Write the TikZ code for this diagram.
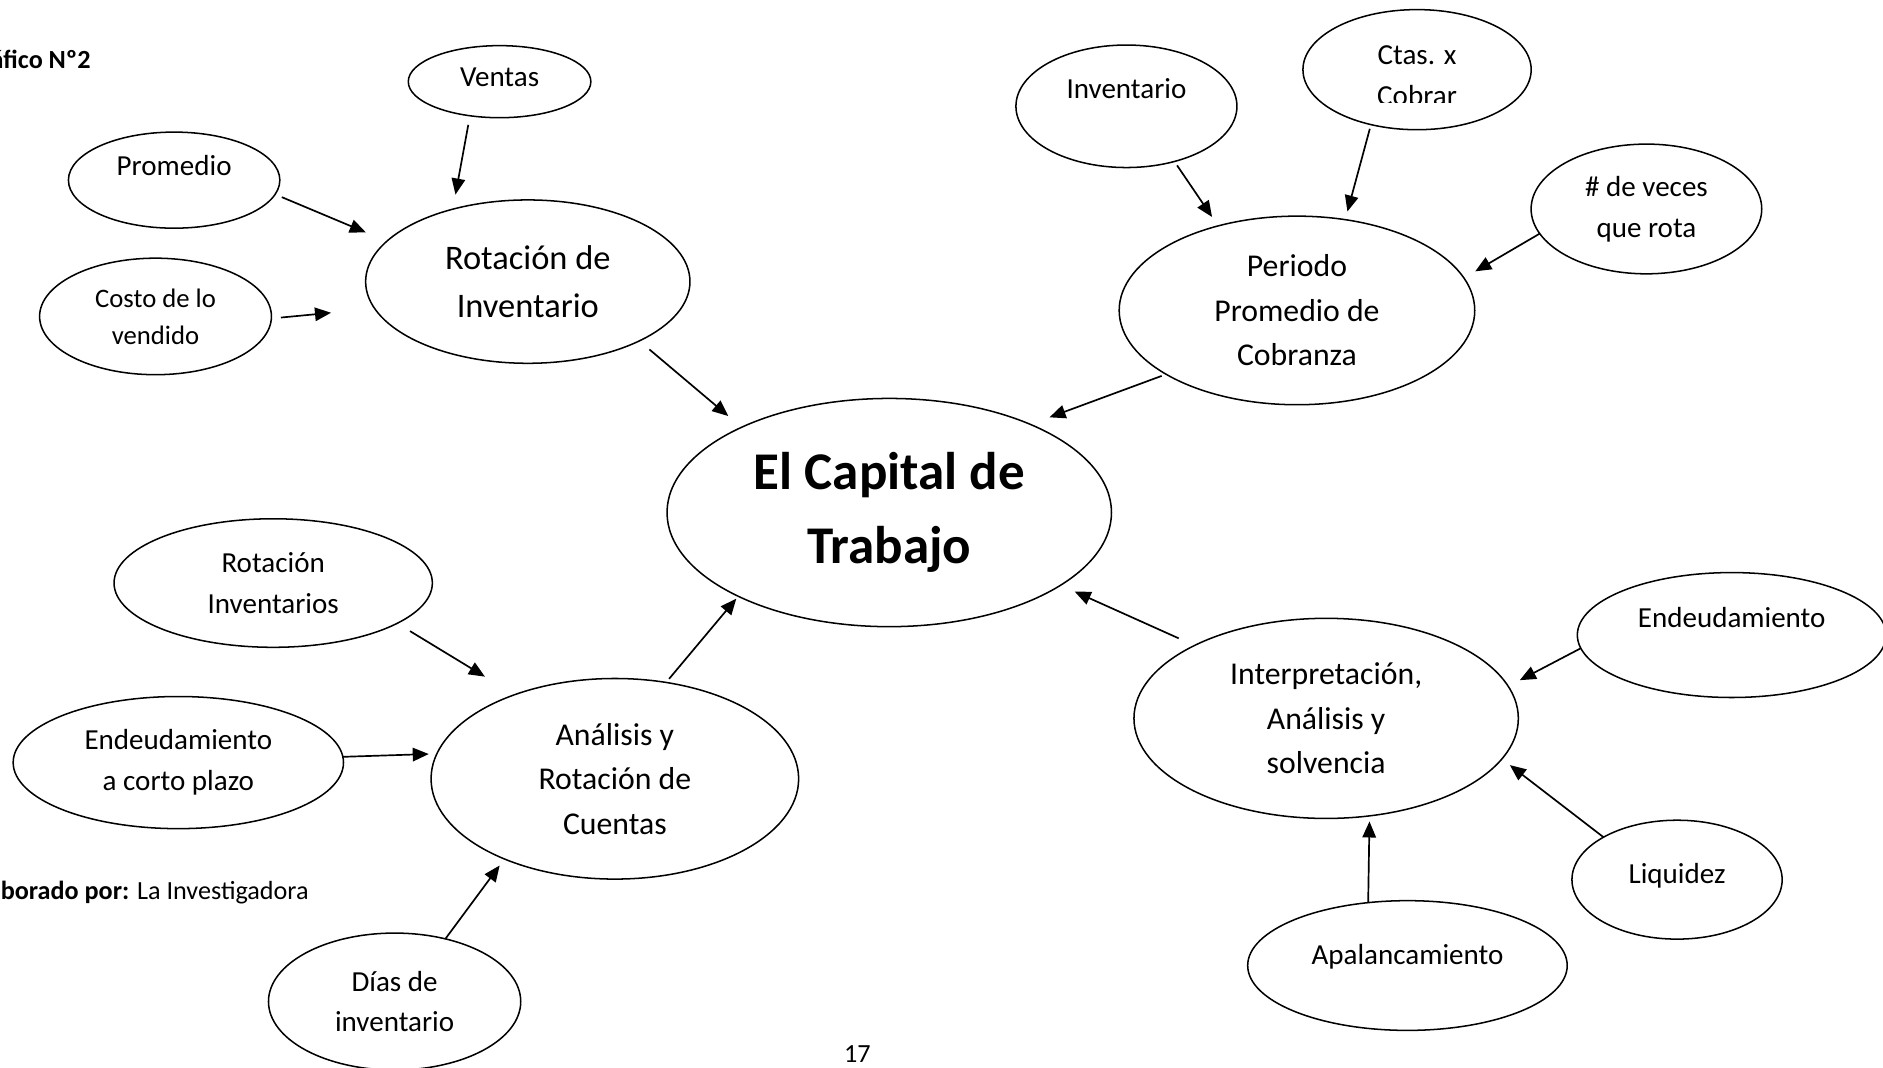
\documentclass[tikz,border=0pt]{standalone}
\usepackage{fontspec}
\setmainfont{Carlito}
\usetikzlibrary{shapes.geometric,arrows.meta}
\newcommand{\lift}[2]{\raisebox{#1}[\height][\depth]{#2}}

\begin{document}
\begin{tikzpicture}[x=0.025cm,y=-0.025cm,inner sep=0pt,outer sep=0pt,
    oval/.style={draw, ellipse, line width=0.9pt, align=center, font=\fontsize{17.2}{24.2}\selectfont},
    ovalmid/.style={oval, font=\fontsize{18.8}{26.3}\selectfont},
    arr/.style={-{Triangle[length=9.5pt,width=8pt]}, line width=1pt},
    note/.style={font=\fontsize{15.5}{18}\selectfont}]
    \clip (0,0) rectangle (1568,889);
    \fill[white] (0,0) rectangle (1568,889);
    % 
    \node[note, anchor=base east] (titulo) at (75.5,57) {\textbf{Gráfico Nº2}};
    \node[note, anchor=base east] (autor) at (257,749) {\textbf{Elaborado por:} La Investigadora};
    \node[note, anchor=base] (pagina) at (714,885) {17};
    % centro
    \node[oval, minimum width=9.25cm, minimum height=4.75cm, font=\fontsize{31.4}{44}\selectfont\bfseries] (capital) at (740.5,426.8) {El Capital de\\Trabajo};
    % arriba izquierda
    \node[oval, minimum width=3.8cm, minimum height=1.5cm] (ventas) at (416,68) {\lift{0.1cm}{Ventas}};
    \node[oval, minimum width=4.4cm, minimum height=2cm] (promedio) at (145,150) {\lift{0.3cm}{Promedio}};
    \node[oval, minimum width=4.825cm, minimum height=2.425cm, font=\fontsize{15.8}{22}\selectfont] (costo) at (129.5,263.5) {Costo de lo\\vendido};
    \node[oval, minimum width=6.75cm, minimum height=3.4cm, font=\fontsize{20.4}{28.5}\selectfont] (rotinv) at (439.5,234.5) {Rotación de\\Inventario};
    % arriba derecha
    \node[oval, minimum width=4.6cm, minimum height=2.55cm] (invent) at (938,88.5) {\lift{0.3625cm}{Inventario}};
    \node[oval, minimum width=4.75cm, minimum height=2.5cm] (ctas) at (1180,58) {};
    \begin{scope}
        \clip (1080,0) rectangle (1280,85.5);
        \node[align=center, font=\fontsize{17.2}{24.2}\selectfont] (ctastxt) at (1180,63) {Ctas. x\\Cobrar};
    \end{scope}
    \node[oval, minimum width=4.8cm, minimum height=2.7cm] (veces) at (1371,174) {\# de veces\\que rota};
    \node[ovalmid, minimum width=7.4cm, minimum height=3.925cm] (periodo) at (1080,258.5) {Periodo\\Promedio de\\Cobranza};
    % abajo izquierda
    \node[oval, minimum width=6.625cm, minimum height=2.675cm] (rotinvs) at (227.5,485.5) {Rotación\\Inventarios};
    \node[oval, minimum width=6.875cm, minimum height=2.75cm] (endcorto) at (148.5,635) {Endeudamiento\\a corto plazo};
    \node[ovalmid, minimum width=7.65cm, minimum height=4.175cm] (analisis) at (512,648.5) {Análisis y\\Rotación de\\Cuentas};
    \node[oval, minimum width=5.25cm, minimum height=2.85cm] (dias) at (328.6,834) {Días de\\inventario};
    % abajo derecha
    \node[ovalmid, minimum width=8cm, minimum height=4.165cm] (interp) at (1104.3,598.2) {Interpretación,\\Análisis y\\solvencia};
    \node[oval, minimum width=6.425cm, minimum height=2.6cm] (endeud) at (1442,528.8) {\lift{0.375cm}{Endeudamiento}};
    \node[oval, minimum width=4.375cm, minimum height=2.475cm] (liquidez) at (1396.5,732.5) {\lift{0.075cm}{Liquidez}};
    \node[oval, minimum width=6.65cm, minimum height=2.7cm] (apalanc) at (1172,804) {\lift{0.175cm}{Apalancamiento}};
    % flechas
    \draw[arr, shorten <=5.5pt, shorten >=8.8pt] (ventas.229.4) -- (rotinv.136.8);
    \draw[arr, shorten <=4.3pt, shorten >=13.5pt] (promedio.-8.6) -- (rotinv.164.4);
    \draw[arr, shorten <=5.7pt, shorten >=26pt] (costo.-1) -- (rotinv.190.3);
    \draw[arr, shorten <=7.8pt, shorten >=10.3pt] (rotinv.-28.4) -- (capital.150.5);
    \draw[arr, shorten <=2.8pt, shorten >=6.4pt] (invent.-49.6) -- (periodo.133.7);
    \draw[arr, shorten <=2.6pt, shorten >=5pt] (ctas.-130.9) -- (periodo.62.8);
    \draw[arr, shorten >=7.8pt] (veces.193.6) -- (periodo.11.3);
    \draw[arr, shorten <=2.8pt, shorten >=12.1pt] (periodo.206.8) -- (capital.32.1);
    \draw[arr, shorten <=10.3pt, shorten >=9.2pt] (interp.151.6) -- (capital.-23.2);
    \draw[arr, shorten >=7.8pt] (endeud.185.6) -- (interp.10.4);
    \draw[arr, shorten >=6pt] (liquidez.150.6) -- (interp.-13.6);
    \draw[arr, shorten >=3.3pt] (apalanc.122.2) -- (interp.-66.9);
    \draw[arr, shorten <=8.9pt, shorten >=20.6pt] (rotinvs.-18.8) -- (analisis.140.3);
    \draw[arr, shorten >=4.8pt] (endcorto.2.9) -- (analisis.172.1);
    \draw[arr, shorten >=4.8pt] (dias.51.2) -- (analisis.216.4);
    \draw[arr, shorten <=2.8pt, shorten >=1.8pt] (analisis.62.8) -- (capital.209.4);
\end{tikzpicture}
\end{document}
